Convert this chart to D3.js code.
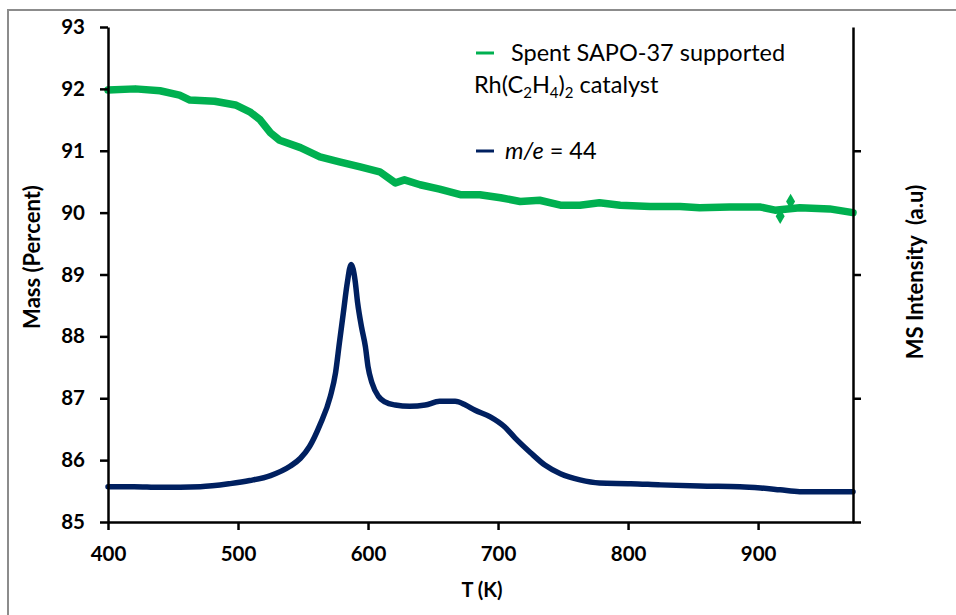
<!DOCTYPE html>
<html>
<head>
<meta charset="utf-8">
<script src="https://cdn.jsdelivr.net/npm/d3@7"></script>
<style>
  body { margin: 0; background: #fff; }
  svg { display: block; }
  text { font-family: Lato, "Open Sans", sans-serif; fill: #000; }
</style>
</head>
<body>
<svg id="chart" width="956" height="615"></svg>
<script>
// TGA mass trace of the spent catalyst (T in K, mass in percent)
const tempMass = [400, 421, 440, 455, 463, 482, 498, 509, 517, 525, 532, 548, 563, 578, 594,
  609, 621, 628, 640, 655, 671, 686, 702, 717, 732, 748, 763, 778, 794, 817, 840, 855, 878,
  902, 913, 932, 955, 973];
const massPercent = [91.98, 92.0, 91.97, 91.90, 91.82, 91.80, 91.74, 91.63, 91.50, 91.29, 91.17,
  91.05, 90.90, 90.82, 90.74, 90.66, 90.48, 90.53, 90.45, 90.38, 90.29, 90.29, 90.24, 90.18,
  90.20, 90.12, 90.12, 90.16, 90.12, 90.10, 90.10, 90.08, 90.09, 90.09, 90.04, 90.08, 90.06, 90.00];
// two stray mass readings near 920 K
const tempMassStray = [917, 925];
const massStray = [89.94, 90.18];

// mass-spec signal for m/e = 44 (arbitrary units on the secondary axis)
const tempMS = [400, 420, 440, 471, 494, 509, 525, 540, 548, 555, 563, 571, 575, 578, 581, 584,
  587, 590, 592, 595, 598, 600, 603, 608, 613, 621, 632, 644, 655, 667, 675, 682, 694, 705,
  713, 725, 736, 748, 763, 778, 802, 825, 855, 886, 902, 917, 932, 955, 973];
const msIntensity = [0.285, 0.285, 0.28, 0.285, 0.31, 0.335, 0.375, 0.45, 0.515, 0.61, 0.785,
  1.015, 1.205, 1.45, 1.69, 1.93, 2.08, 1.955, 1.77, 1.575, 1.415, 1.255, 1.125, 1.015, 0.97,
  0.945, 0.935, 0.945, 0.975, 0.975, 0.945, 0.905, 0.85, 0.77, 0.68, 0.56, 0.46, 0.39, 0.34,
  0.315, 0.31, 0.30, 0.29, 0.285, 0.275, 0.26, 0.245, 0.245, 0.245];

const tempTicks = [400, 500, 600, 700, 800, 900];
const massTicks = [85, 86, 87, 88, 89, 90, 91, 92, 93];
const msTicks = [0, 1, 2, 3];

const greenColor = "#00b050";
const blueColor = "#002060";

const svg = d3.select("#chart");

// outer chart frame
svg.append("rect")
  .attr("x", 8).attr("y", 10)
  .attr("width", 980).attr("height", 640)
  .attr("fill", "#fff")
  .attr("stroke", "#8c8c8c").attr("stroke-width", 2);

const x = d3.scaleLinear().domain([400, 973]).range([108, 853]);
const y = d3.scaleLinear().domain([85, 93]).range([522, 27]);
const y2 = d3.scaleLinear().domain([0, 4]).range([522, 27]);

// data traces
const massLine = d3.line().x((d, i) => x(tempMass[i])).y(d => y(d)).curve(d3.curveLinear);
svg.append("path")
  .attr("d", massLine(massPercent))
  .attr("fill", "none").attr("stroke", greenColor)
  .attr("stroke-width", 7.5).attr("stroke-linejoin", "round").attr("stroke-linecap", "round");

svg.selectAll(".stray").data(massStray).join("path")
  .attr("class", "stray")
  .attr("transform", (d, i) => `translate(${x(tempMassStray[i])},${y(d)})`)
  .attr("d", d3.symbol(d3.symbolDiamond, 70)())
  .attr("fill", greenColor);

const msLine = d3.line().x((d, i) => x(tempMS[i])).y(d => y2(d)).curve(d3.curveMonotoneX);
svg.append("path")
  .attr("d", msLine(msIntensity))
  .attr("fill", "none").attr("stroke", blueColor)
  .attr("stroke-width", 5.5).attr("stroke-linejoin", "round").attr("stroke-linecap", "round");

// axes
function styleAxis(g) {
  g.selectAll("path.domain").attr("stroke", "#000").attr("stroke-width", 2.5);
  g.selectAll(".tick line").attr("stroke", "#000").attr("stroke-width", 2.5);
  g.selectAll(".tick text").attr("font-family", "Lato, sans-serif")
    .attr("font-weight", "bold").attr("font-size", 20.5).attr("fill", "#000");
}

svg.append("g")
  .attr("transform", "translate(108,0)")
  .call(d3.axisLeft(y).tickValues(massTicks).tickSize(8).tickSizeOuter(0).tickPadding(15))
  .call(styleAxis);

svg.append("g")
  .attr("transform", "translate(0,522)")
  .call(d3.axisBottom(x).tickValues(tempTicks).tickSize(8).tickSizeOuter(0).tickPadding(16))
  .call(styleAxis);

svg.append("g")
  .attr("transform", "translate(853,0)")
  .call(d3.axisRight(y2).tickValues(msTicks).tickFormat("").tickSize(8).tickSizeOuter(0))
  .call(styleAxis);

// axis titles
svg.append("text")
  .attr("x", 482).attr("y", 597)
  .attr("text-anchor", "middle")
  .attr("font-weight", "bold").attr("font-size", 20)
  .text("T (K)");

svg.append("text")
  .attr("transform", "translate(40,257) rotate(-90)")
  .attr("text-anchor", "middle")
  .attr("font-weight", "bold").attr("font-size", 22)
  .text("Mass (Percent)");

svg.append("text")
  .attr("transform", "translate(923,272) rotate(-90)")
  .attr("text-anchor", "middle")
  .attr("font-weight", "bold").attr("font-size", 22)
  .style("white-space", "pre")
  .text("MS Intensity  (a.u)");

// legend
const legend = svg.append("g");
legend.append("line")
  .attr("x1", 476).attr("x2", 494).attr("y1", 53).attr("y2", 53)
  .attr("stroke", greenColor).attr("stroke-width", 3);
legend.append("text")
  .attr("x", 511).attr("y", 61)
  .attr("font-size", 23.5)
  .text("Spent SAPO-37 supported");
const rh = legend.append("text").attr("x", 474).attr("y", 93).attr("font-size", 23.5);
rh.append("tspan").text("Rh(C");
rh.append("tspan").attr("font-size", 15).attr("dy", 5).text("2");
rh.append("tspan").attr("dy", -5).text("H");
rh.append("tspan").attr("font-size", 15).attr("dy", 5).text("4");
rh.append("tspan").attr("dy", -5).text(")");
rh.append("tspan").attr("font-size", 15).attr("dy", 5).text("2");
rh.append("tspan").attr("dy", -5).text(" catalyst");

legend.append("line")
  .attr("x1", 476).attr("x2", 494).attr("y1", 151).attr("y2", 151)
  .attr("stroke", blueColor).attr("stroke-width", 3);
const me = legend.append("text").attr("x", 505).attr("y", 159).attr("font-size", 23.5);
me.append("tspan").attr("font-style", "italic").text("m/e");
me.append("tspan").text(" = 44");
</script>
</body>
</html>
